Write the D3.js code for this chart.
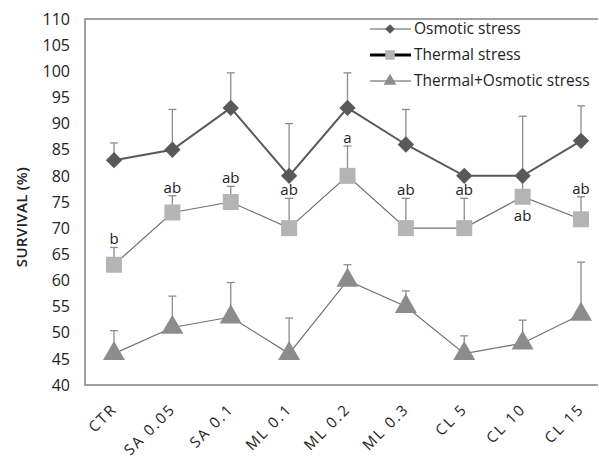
<!DOCTYPE html>
<html>
<head>
<meta charset="utf-8">
<script src="https://cdn.jsdelivr.net/npm/d3@7"></script>
<style>
  body { margin: 0; background: #fff; }
  text { font-family: "Open Sans", "DejaVu Sans", sans-serif; fill: #222; }
</style>
</head>
<body>
<div id="chart"></div>
<script>
// chart size
const width = 599;
const height = 463;
const margin = {left: 85, right: 1, top: 19, bottom: 78};

// data
const categories = ["CTR", "SA 0.05", "SA 0.1", "ML 0.1", "ML 0.2", "ML 0.3", "CL 5", "CL 10", "CL 15"];
const osmotic = [83, 85, 93, 80, 93, 86, 80, 80, 86.7];
const osmoticErr = [86.3, 92.7, 99.7, 90, 99.7, 92.7, 80, 91.4, 93.4];
const thermal = [63, 73, 75, 70, 80, 70, 70, 76, 71.7];
const thermalErr = [66.3, 76.2, 78, 75.7, 85.7, 75.7, 75.7, 79.5, 76];
const thermalLetters = ["b", "ab", "ab", "ab", "a", "ab", "ab", "ab", "ab"];
const both = [46, 51, 53, 46, 60, 55, 46, 48, 53.5];
const bothErr = [50.4, 57, 59.6, 52.8, 63, 58, 49.4, 52.4, 63.5];
const yTicks = [40, 45, 50, 55, 60, 65, 70, 75, 80, 85, 90, 95, 100, 105, 110];

const svg = d3.select("#chart")
  .append("svg")
  .attr("width", width)
  .attr("height", height);

// x positions: points are spaced evenly, the last band runs past the edge
let xScale = d3.scalePoint()
  .domain(categories)
  .range([114, 581]);

let yScale = d3.scaleLinear()
  .domain([40, 110])
  .range([height - margin.bottom, margin.top]);

// frame (left, top, bottom)
svg.append("path")
  .attr("d", `M${width - margin.right},${margin.top}H${margin.left}V${height - margin.bottom}H${width - margin.right}`)
  .attr("fill", "none")
  .attr("stroke", "#808080")
  .attr("stroke-width", 1.5);

// y tick labels
svg.append("g")
  .selectAll("text")
  .data(yTicks)
  .enter()
  .append("text")
    .attr("x", 70)
    .attr("y", d => yScale(d))
    .attr("dy", "0.36em")
    .attr("text-anchor", "end")
    .attr("font-size", "16px")
    .text(d => d);

// x tick labels, rotated
svg.append("g")
  .selectAll("text")
  .data(categories)
  .enter()
  .append("text")
    .attr("transform", d => `translate(${xScale(d) + 4},${height - margin.bottom + 25}) rotate(-45)`)
    .attr("text-anchor", "end")
    .attr("font-size", "15px")
    .attr("letter-spacing", "2px")
    .text(d => d);

// y axis title
svg.append("text")
  .attr("transform", "translate(27,217) rotate(-90)")
  .attr("text-anchor", "middle")
  .attr("font-size", "15px")
  .attr("font-weight", 600)
  .attr("letter-spacing", "0.3px")
  .text("SURVIVAL (%)");

// error bars (upper only) with caps
function errorBars(vals, tops, color) {
  const g = svg.append("g").attr("stroke", color).attr("stroke-width", 1.3);
  categories.forEach((c, i) => {
    if (tops[i] <= vals[i]) return;
    const x = xScale(c);
    g.append("line")
      .attr("x1", x).attr("x2", x)
      .attr("y1", yScale(vals[i])).attr("y2", yScale(tops[i]));
    g.append("line")
      .attr("x1", x - 4).attr("x2", x + 4)
      .attr("y1", yScale(tops[i])).attr("y2", yScale(tops[i]));
  });
}

errorBars(osmotic, osmoticErr, "#8c8c8c");
errorBars(thermal, thermalErr, "#8c8c8c");
errorBars(both, bothErr, "#8c8c8c");

const line = d3.line()
  .x((d, i) => xScale(categories[i]))
  .y(d => yScale(d));

// series lines
svg.append("path").datum(osmotic)
  .attr("d", line).attr("fill", "none")
  .attr("stroke", "#595959").attr("stroke-width", 2);
svg.append("path").datum(thermal)
  .attr("d", line).attr("fill", "none")
  .attr("stroke", "#707070").attr("stroke-width", 1.2);
svg.append("path").datum(both)
  .attr("d", line).attr("fill", "none")
  .attr("stroke", "#707070").attr("stroke-width", 1.2);

// markers
const diamond = d3.symbol().type(d3.symbolDiamond2).size(170);
const square = d3.symbol().type(d3.symbolSquare).size(256);
const triangle = d3.symbol().type(d3.symbolTriangle).size(210);

svg.append("g").selectAll("path")
  .data(osmotic).enter().append("path")
    .attr("d", diamond)
    .attr("transform", (d, i) => `translate(${xScale(categories[i])},${yScale(d)})`)
    .attr("fill", "#595959");

svg.append("g").selectAll("path")
  .data(thermal).enter().append("path")
    .attr("d", square)
    .attr("transform", (d, i) => `translate(${xScale(categories[i])},${yScale(d)})`)
    .attr("fill", "#b4b4b4");

svg.append("g").selectAll("path")
  .data(both).enter().append("path")
    .attr("d", triangle)
    .attr("transform", (d, i) => `translate(${xScale(categories[i])},${yScale(d)})`)
    .attr("fill", "#8c8c8c");

// significance letters on the thermal series (CL 10 sits below its marker)
svg.append("g").selectAll("text")
  .data(thermalLetters).enter().append("text")
    .attr("x", (d, i) => xScale(categories[i]))
    .attr("y", (d, i) => i === 7 ? yScale(thermal[i]) + 24 : yScale(thermalErr[i]) - 3)
    .attr("text-anchor", "middle")
    .attr("font-size", "15px")
    .text(d => d);

// legend
const legend = [
  {name: "Osmotic stress", sym: d3.symbol().type(d3.symbolDiamond2).size(60), fill: "#595959", stroke: "#595959", sw: 1},
  {name: "Thermal stress", sym: d3.symbol().type(d3.symbolSquare).size(90), fill: "#b4b4b4", stroke: "#000", sw: 3},
  {name: "Thermal+Osmotic stress", sym: d3.symbol().type(d3.symbolTriangle).size(70), fill: "#8c8c8c", stroke: "#595959", sw: 1}
];
const lg = svg.append("g").selectAll("g")
  .data(legend).enter().append("g")
    .attr("transform", (d, i) => `translate(370,${29 + i * 26})`);
lg.append("line")
  .attr("x1", 0).attr("x2", 41)
  .attr("stroke", d => d.stroke)
  .attr("stroke-width", d => d.sw);
lg.append("path")
  .attr("d", d => d.sym())
  .attr("transform", "translate(20,0)")
  .attr("fill", d => d.fill);
lg.append("text")
  .attr("x", 44)
  .attr("dy", "0.35em")
  .attr("font-size", "15.5px")
  .text(d => d.name);
</script>
</body>
</html>
